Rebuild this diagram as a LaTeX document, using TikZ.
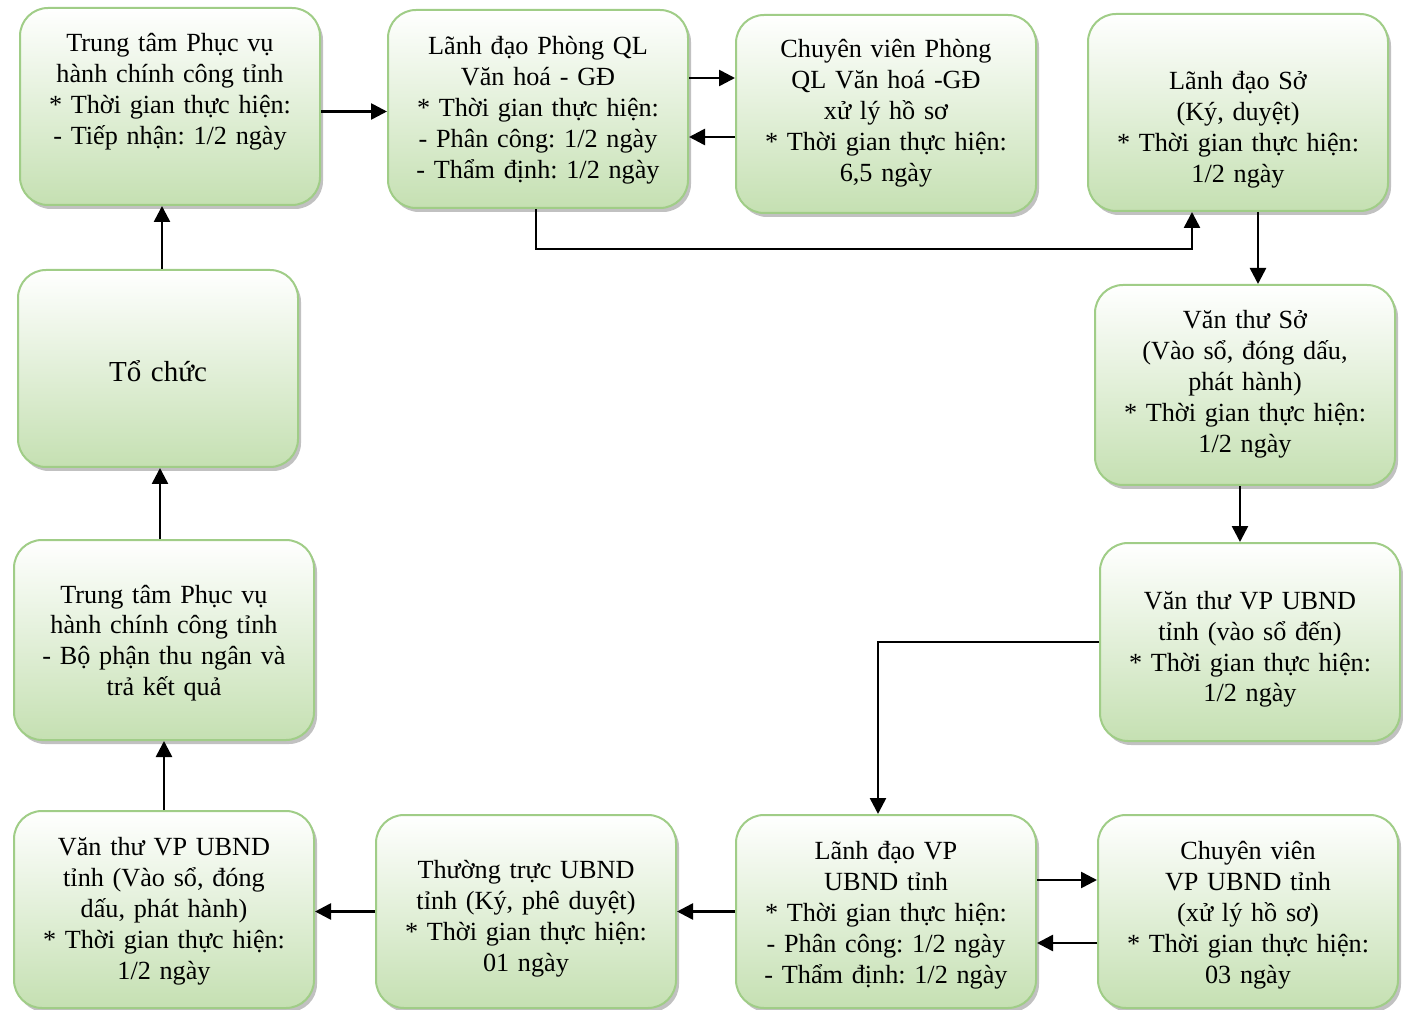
\documentclass[tikz,border=0pt]{standalone}
\usepackage{fontspec}
\setmainfont{Liberation Serif}
\usetikzlibrary{arrows.meta,shadows}
\definecolor{boxline}{RGB}{160,205,135}
\definecolor{boxfill}{RGB}{197,224,178}
\frenchspacing
\begin{document}
\begin{tikzpicture}[x=0.5pt,y=-0.5pt,
	stepbox/.style={draw=boxline, line width=1pt, rounded corners=14pt, top color=white, bottom color=boxfill,
		drop shadow={shadow xshift=1.5pt, shadow yshift=-2pt, fill=black!35, opacity=0.7},
		text width=150pt, align=center, inner sep=0pt, font=\fontsize{13.1}{15.5}\selectfont},
	arr/.style={line width=1.3pt, -{Triangle[length=8pt,width=8pt]}}]
	\useasboundingbox (0,0) rectangle (1403,1010);
	% Boxes
	\node[stepbox, text height=22pt, text depth=76.5pt] (tt1) at (170,106.5) {Trung tâm Phục vụ\\ hành chính công tỉnh\\ {*} Thời gian thực hiện:\\ - Tiếp nhận: 1/2 ngày};
	\node[stepbox, text height=22.5pt, text depth=76.5pt] (ldp) at (538,109) {Lãnh đạo Phòng QL\\ Văn hoá - GĐ\\ {*} Thời gian thực hiện:\\ - Phân công: 1/2 ngày\\ - Thẩm định: 1/2 ngày};
	\node[stepbox, text height=21.5pt, text depth=77.5pt] (cvp) at (886,114) {Chuyên viên Phòng\\ QL Văn hoá -GĐ\\ xử lý hồ sơ\\ {*} Thời gian thực hiện:\\ 6,5 ngày};
	\node[stepbox, text height=38pt, text depth=60.5pt] (lds) at (1238,112.5) {Lãnh đạo Sở\\ (Ký, duyệt)\\ {*} Thời gian thực hiện:\\ 1/2 ngày};
	\node[stepbox, text height=22pt, text depth=78pt] (vts) at (1245,385) {Văn thư Sở\\ (Vào sổ, đóng dấu,\\ phát hành)\\ {*} Thời gian thực hiện:\\ 1/2 ngày};
	\node[stepbox, text height=33pt, text depth=66pt] (vtub) at (1250,642) {Văn thư VP UBND\\ tỉnh (vào sổ đến)\\ {*} Thời gian thực hiện:\\ 1/2 ngày};
	\node[stepbox, text height=22pt, text depth=74.5pt] (ldvp) at (886,911.5) {Lãnh đạo VP\\ UBND tỉnh\\ {*} Thời gian thực hiện:\\ - Phân công: 1/2 ngày\\ - Thẩm định: 1/2 ngày};
	\node[stepbox, text height=22pt, text depth=74.5pt] (cvvp) at (1248,911.5) {Chuyên viên\\ VP UBND tỉnh\\ (xử lý hồ sơ)\\ {*} Thời gian thực hiện:\\ 03 ngày};
	\node[stepbox, text height=31.5pt, text depth=65pt] (ttr) at (526,911.5) {Thường trực UBND\\ tỉnh (Ký, phê duyệt)\\ {*} Thời gian thực hiện:\\ 01 ngày};
	\node[stepbox, text height=22pt, text depth=76.5pt] (vtvp) at (164,909.5) {Văn thư VP UBND\\ tỉnh (Vào sổ, đóng\\ dấu, phát hành)\\ {*} Thời gian thực hiện:\\ 1/2 ngày};
	\node[stepbox, text height=31.5pt, text depth=68.5pt] (tt2) at (164,640) {Trung tâm Phục vụ\\ hành chính công tỉnh\\ - Bộ phận thu ngân và\\ trả kết quả};
	\node[stepbox, text width=140pt, text height=56pt, text depth=42.5pt, font=\fontsize{14.5}{17}\selectfont] (toc) at (158,368.5) {Tổ chức};
	% Arrows
	\draw[arr] ([yshift=-2.5pt]tt1.east) -- ([yshift=-2.5pt]tt1.east -| ldp.west);
	\draw[arr] ([yshift=15.5pt]ldp.east) -- ([yshift=15.5pt]ldp.east -| cvp.west);
	\draw[arr] ([yshift=-11.5pt]cvp.west) -- ([yshift=-11.5pt]cvp.west -| ldp.east);
	\draw[arr] ([xshift=-1pt]ldp.south) -- ++(0,40) -| ([xshift=-23pt]lds.south);
	\draw[arr] ([xshift=10pt]lds.south) -- ([xshift=10pt]lds.south |- vts.north);
	\draw[arr] ([xshift=-2.5pt]vts.south) -- ([xshift=-2.5pt]vts.south |- vtub.north);
	\draw[arr] (vtub.west) -| ([xshift=-4pt]ldvp.north);
	\draw[arr] ([yshift=15.75pt]ldvp.east) -- ([yshift=15.75pt]ldvp.east -| cvvp.west);
	\draw[arr] ([yshift=-15.75pt]cvvp.west) -- ([yshift=-15.75pt]cvvp.west -| ldvp.east);
	\draw[arr] (ldvp.west) -- (ldvp.west -| ttr.east);
	\draw[arr] (ttr.west) -- (ttr.west -| vtvp.east);
	\draw[arr] (vtvp.north) -- (vtvp.north |- tt2.south);
	\draw[arr] ([xshift=-2pt]tt2.north) -- ([xshift=-2pt]tt2.north |- toc.south);
	\draw[arr] ([xshift=2pt]toc.north) -- ([xshift=2pt]toc.north |- tt1.south);
\end{tikzpicture}
\end{document}
